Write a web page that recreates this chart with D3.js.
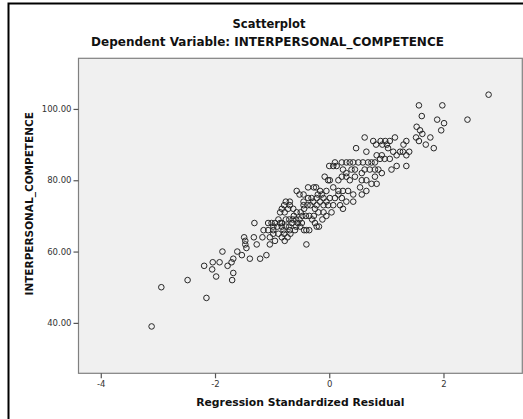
<!DOCTYPE html>
<html>
<head>
<meta charset="utf-8">
<script src="https://cdn.jsdelivr.net/npm/d3@7"></script>
<style>
  html, body { margin: 0; padding: 0; background: #ffffff; }
  svg { display: block; }
</style>
</head>
<body>
<div id="chart"></div>
<script>
// ---- data ----
const residuals = [
  -3.11, -2.94, -2.48, -2.15, -2.19, -2.04, -2.05, -1.98, -1.92, -1.87,
  -1.78, -1.71, -1.68, -1.68, -1.70, -1.61, -1.53, -1.49, -1.47, -1.47,
  -1.45, -1.39, -1.32, -1.27, -1.21, -1.17, -1.10, -1.31, -1.15, -1.07,
  -1.04,
  0.00, -0.08, -0.02, -0.57, -0.52, -0.37, -0.27, -0.23, -0.16, -0.13,
  -0.05, -0.69, -0.76, -0.79, -0.83, -0.69, -0.45, -0.37, -0.31, -0.22,
  -0.10, -0.05, -0.02, -0.16, -0.86, -0.78, -0.72, -0.63, -0.57, -0.50,
  -0.44, -0.38, -0.33, -0.25, -0.19, -0.10, -0.27, -1.01, -0.95, -0.89,
  -0.83, -0.76, -0.70, -0.64, -0.58, -0.52, -0.47, -0.41, -0.35, -1.07,
  -0.98, -0.91, -0.83, -0.76, -0.70, -0.69, -0.79, -0.73, -0.68, -0.44,
  -0.40, -0.35, -0.18, -0.40,
  -0.98, -0.80, -0.58, -0.51, -0.22, -0.83, -0.78, -0.95, -1.04, -0.98,
  -0.89, -0.86, -0.66, -0.60, -0.55, -0.62, -0.48, -0.30, -0.25, -0.12,
  -0.05, 0.04, -0.28, -0.20,
  0.62, 0.47, 0.65, 0.77, 0.82, 0.90, 0.93, 0.98, 1.01, 1.06,
  1.03, 0.92, 0.83, 0.97, 0.10, 0.07, 0.13, 0.22, 0.30, 0.36,
  0.42, 0.51, 0.59, 0.68, 0.74, 0.80, 0.24, 0.30, 0.39, 0.45,
  0.57, 0.62, 0.71, 0.80, 0.86, 0.92, 0.01, 0.16, 0.22, 0.30,
  0.36, 0.45, 0.57, 0.65, 0.74, 0.83, 0.07, 0.16, 0.24, 0.33,
  0.42, 0.54, 0.65, -0.45, 0.01, 0.10, 0.16, 0.22, 0.30, 0.42,
  0.57, -0.45, -0.22, -0.10, 0.07, 0.19, 0.24,
  2.79, 1.57, 1.98, 1.62, 1.89, 2.01, 2.42, 1.96, 1.53, 1.59,
  1.63, 1.52, 1.57, 1.69, 1.77, 1.83, 1.15, 1.35, 1.40, 1.35,
  1.18, 1.30, 1.35, 1.29, 1.24, 1.18, 1.12, 1.06, 0.89, 1.09,
  0.80
];
const competence = [
  39, 50, 52, 47, 56, 57, 55, 53, 57, 60,
  56, 57, 58, 54, 52, 60, 59, 64, 63, 62,
  61, 58, 64, 62, 58, 64, 59, 68, 66, 68,
  62,
  84, 81, 80, 77, 76, 78, 78, 78, 77, 76,
  77, 74, 74, 73, 72, 73, 74, 75, 75, 75,
  75, 74, 73, 74, 71, 71, 72, 72, 71, 71,
  72, 73, 73, 72, 71, 71, 70, 68, 68, 69,
  68, 69, 69, 69, 69, 69, 70, 70, 70, 66,
  67, 67, 67, 67, 67, 66, 65, 64, 65, 66,
  66, 66, 67, 62,
  66, 66, 67, 67, 67, 64, 63, 63, 64, 65,
  65, 68, 68, 66, 68, 70, 68, 69, 68, 69,
  70, 71, 74, 76,
  92, 89, 88, 91, 90, 91, 90, 91, 90, 91,
  89, 87, 87, 86, 85, 84, 84, 85, 85, 85,
  85, 85, 85, 85, 85, 85, 83, 82, 83, 83,
  82, 83, 83, 83, 83, 82, 80, 80, 81, 81,
  80, 81, 80, 80, 79, 79, 78, 77, 77, 77,
  76, 78, 77, 76, 75, 75, 76, 75, 74, 74,
  76, 73, 73, 73, 73, 73, 72,
  104, 101, 101, 98, 97, 96, 97, 94, 95, 94,
  93, 92, 91, 90, 92, 89, 92, 91, 88, 84,
  84, 90, 87, 88, 88, 87, 88, 86, 86, 83,
  81
];
const xTickValues = [-4, -2, 0, 2];
const yTickValues = [40, 60, 80, 100];
const titleText = "Scatterplot";
const subtitleText = "Dependent Variable: INTERPERSONAL_COMPETENCE";
const xTitle = "Regression Standardized Residual";
const yTitle = "INTERPERSONAL_COMPETENCE";

// ---- layout ----
const W = 523, H = 419;
const plot = { left: 78.5, right: 522.3, top: 58.3, bottom: 373.3 };
const points = residuals.map((r, i) => ({ x: r, y: competence[i] }));

const svg = d3.select("#chart").append("svg")
  .attr("width", W).attr("height", H);

// outer frame
svg.append("rect")
  .attr("x", 8.5).attr("y", 3.5)
  .attr("width", 560).attr("height", 500)
  .attr("fill", "#ffffff")
  .attr("stroke", "#000000").attr("stroke-width", 2);

const x = d3.scaleLinear().domain([-4.39, 3.38]).range([plot.left, plot.right]);
const y = d3.scaleLinear().domain([25.86, 114.2]).range([plot.bottom, plot.top]);

// plot background
svg.append("rect")
  .attr("x", plot.left).attr("y", plot.top)
  .attr("width", plot.right - plot.left).attr("height", plot.bottom - plot.top)
  .attr("fill", "#f0f0f0")
  .attr("stroke", "#808080").attr("stroke-width", 1.2);

// axes
const xAxis = svg.append("g")
  .attr("transform", `translate(0,${plot.bottom})`)
  .call(d3.axisBottom(x).tickValues(xTickValues).tickSize(5).tickPadding(3)
    .tickFormat(d => String(d)));
const yAxis = svg.append("g")
  .attr("transform", `translate(${plot.left},0)`)
  .call(d3.axisLeft(y).tickValues(yTickValues).tickSize(5).tickPadding(2)
    .tickFormat(d3.format(".2f")));
[xAxis, yAxis].forEach(g => {
  g.select(".domain").remove();
  g.selectAll(".tick line").attr("stroke", "#555").attr("stroke-width", 1.2);
  g.selectAll(".tick text")
    .attr("fill", "#333")
    .style("font-family", "'DejaVu Sans', sans-serif")
    .style("font-size", "8.5px");
});

// points
svg.append("g").selectAll("circle")
  .data(points)
  .join("circle")
  .attr("cx", d => x(d.x))
  .attr("cy", d => y(d.y))
  .attr("r", 2.8)
  .attr("fill", "none")
  .attr("stroke", "#262626")
  .attr("stroke-width", 1);

// titles
const bold = sel => sel
  .style("font-family", "'DejaVu Sans', sans-serif")
  .style("font-weight", "bold")
  .attr("fill", "#111");

svg.append("text").call(bold)
  .attr("x", 269).attr("y", 28)
  .attr("text-anchor", "middle")
  .style("font-size", "11.5px")
  .text(titleText);

svg.append("text").call(bold)
  .attr("x", 267.5).attr("y", 45.5)
  .attr("text-anchor", "middle")
  .style("font-size", "12px")
  .text(subtitleText);

svg.append("text").call(bold)
  .attr("x", (plot.left + plot.right) / 2).attr("y", 406)
  .attr("text-anchor", "middle")
  .style("font-size", "10.8px")
  .text(xTitle);

svg.append("text").call(bold)
  .attr("transform", `translate(33,${(plot.top + plot.bottom) / 2 - 12}) rotate(-90)`)
  .attr("text-anchor", "middle")
  .style("font-size", "10.5px")
  .text(yTitle);
</script>
</body>
</html>
